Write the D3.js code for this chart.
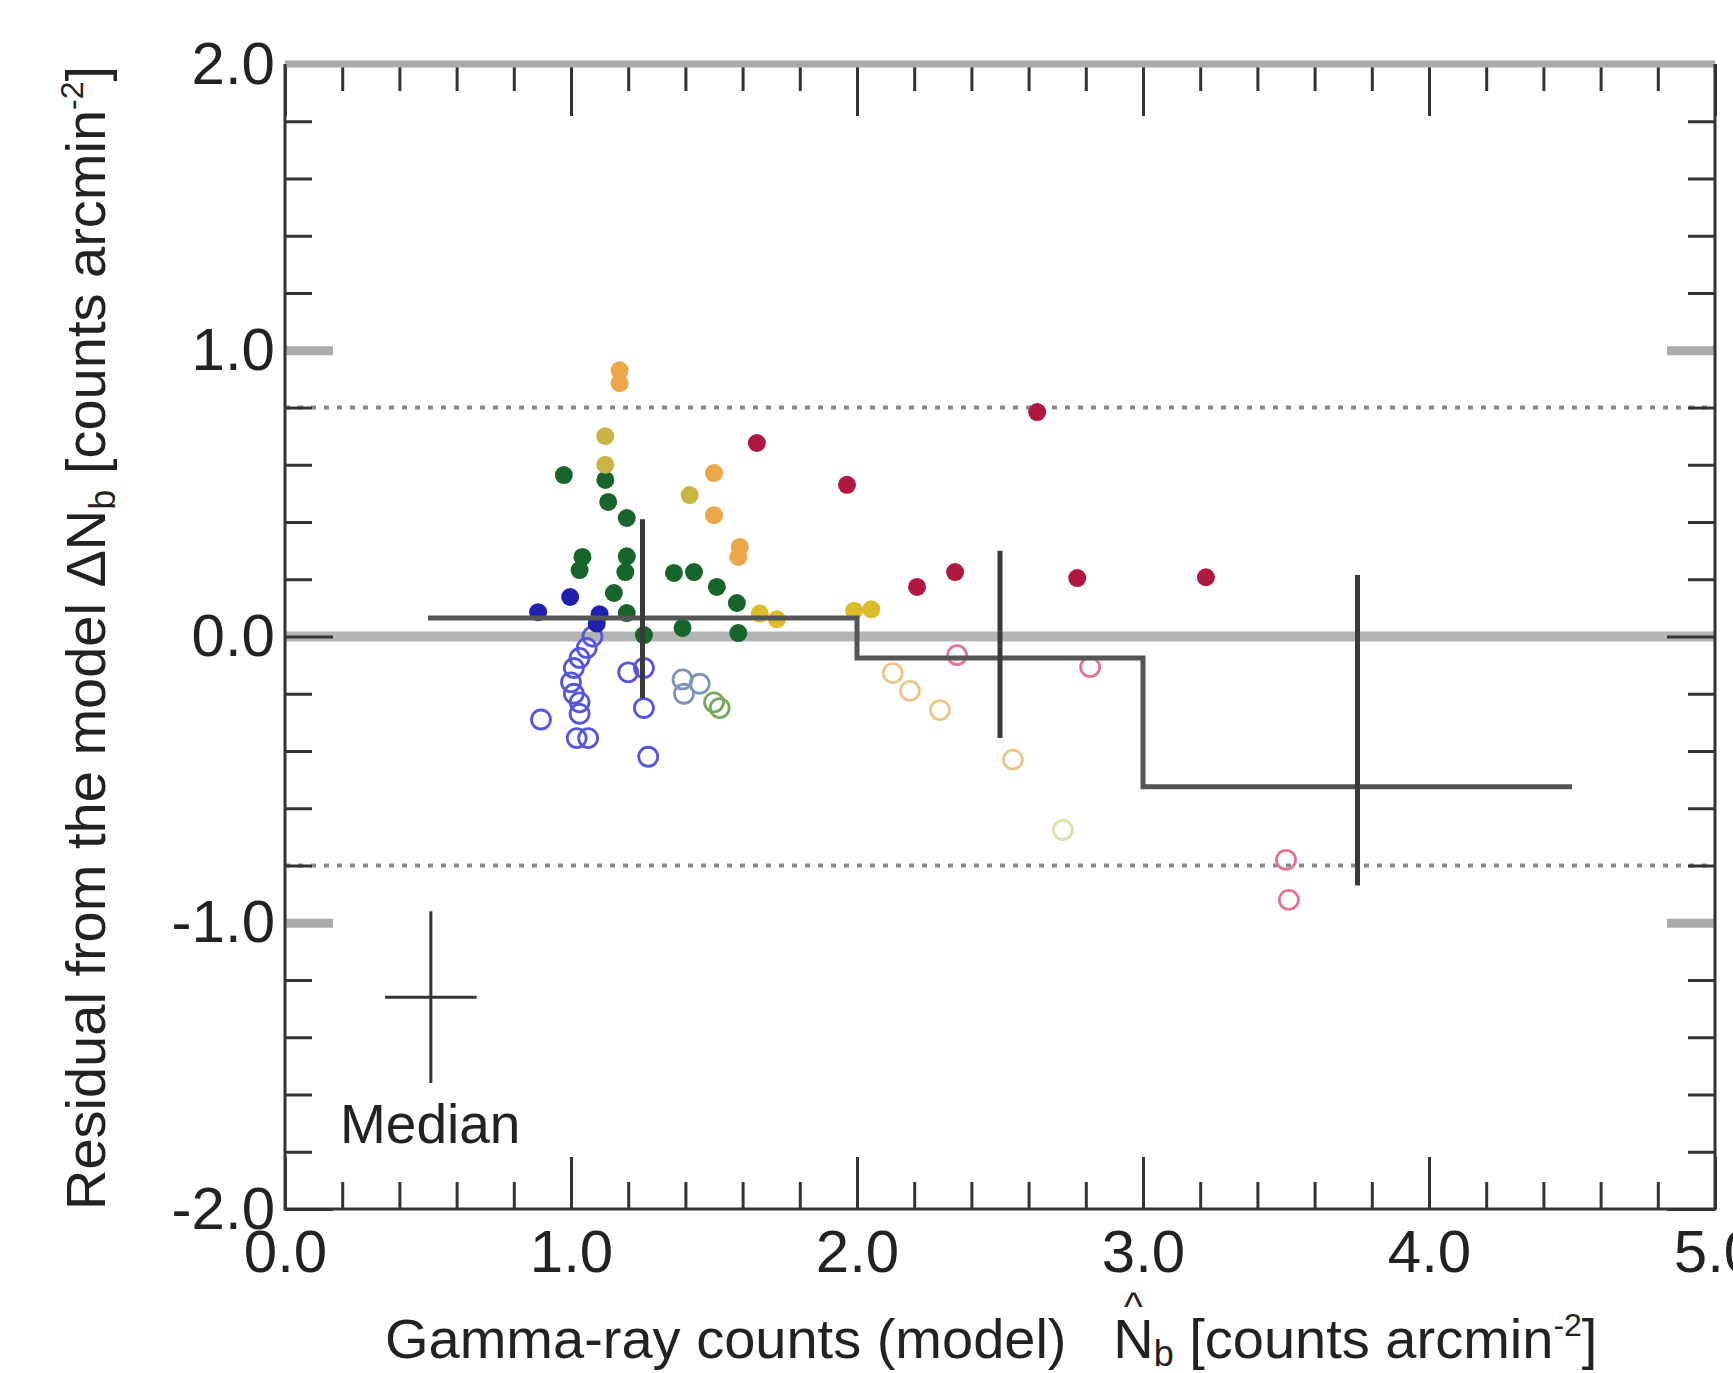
<!DOCTYPE html>
<html>
<head>
<meta charset="utf-8">
<script src="https://cdn.jsdelivr.net/npm/d3@7"></script>
<style>
  body { margin: 0; background: #fff; }
  svg { display: block; font-family: "Liberation Sans", Arial, sans-serif; }
</style>
</head>
<body>
<svg id="chart" width="1733" height="1373"></svg>
<script>
// residual points, [model counts, residual]
const blueFilled = [[0.885, 0.085], [0.997, 0.138], [1.10, 0.078], [1.09, 0.045]];
const blueOpen = [[1.075, 0.0], [1.055, -0.04], [1.03, -0.075], [1.01, -0.11], [1.0, -0.16], [1.01, -0.2],
  [1.03, -0.23], [1.03, -0.27], [1.02, -0.355], [1.06, -0.355], [0.895, -0.29], [1.2, -0.125],
  [1.255, -0.11], [1.255, -0.25], [1.27, -0.42]];
const grayBlueOpen = [[1.39, -0.15], [1.395, -0.2], [1.45, -0.165]];
const greenOpen = [[1.50, -0.23], [1.52, -0.25]];
const greenFilled = [[0.975, 0.564], [1.12, 0.547], [1.13, 0.47], [1.195, 0.414], [1.195, 0.28], [1.19, 0.225],
  [1.04, 0.278], [1.03, 0.232], [1.15, 0.152], [1.195, 0.082], [1.255, 0.005], [1.36, 0.222],
  [1.43, 0.225], [1.51, 0.173], [1.58, 0.117], [1.39, 0.03], [1.585, 0.012]];
const orangeFilled = [[1.17, 0.93], [1.17, 0.885], [1.50, 0.571], [1.50, 0.424], [1.59, 0.313], [1.585, 0.278]];
const oliveFilled = [[1.12, 0.70], [1.12, 0.60], [1.415, 0.494]];
const yellowFilled = [[1.66, 0.08], [1.72, 0.06], [1.99, 0.09], [2.05, 0.095]];
const redFilled = [[1.65, 0.676], [1.965, 0.53], [2.21, 0.173], [2.343, 0.225], [2.63, 0.784], [2.77, 0.204], [3.22, 0.207]];
const redOpen = [[2.35, -0.065], [2.815, -0.107], [3.50, -0.78], [3.51, -0.92]];
const orangeOpen = [[2.125, -0.128], [2.185, -0.19], [2.29, -0.257], [2.545, -0.43]];
const paleOpen = [[2.72, -0.676]];

// binned medians
const binEdges = [0.5, 2.0, 3.0, 4.5];
const binMedians = [0.065, -0.075, -0.525];
const binCenters = [1.25, 2.5, 3.75];
const binLow = [-0.215, -0.355, -0.87];
const binHigh = [0.41, 0.30, 0.215];

// typical error shown as "Median" cross
const medianCross = { x: 0.51, y: -1.26, dx: 0.16, dy: 0.30 };

const limitLines = [0.8, -0.8];
const xMajor = [0, 1, 2, 3, 4, 5];
const yMajor = [-2, -1, 0, 1, 2];

const svg = d3.select("#chart");
const x = d3.scaleLinear().domain([0, 5]).range([285, 1715]);
const y = d3.scaleLinear().domain([-2, 2]).range([1209, 64]);
const fmt = d => d.toFixed(1);

const minorX = d3.range(0, 5.001, 0.2).filter(v => Math.abs(v - Math.round(v)) > 1e-6);
const minorY = d3.range(-2, 2.001, 0.2).filter(v => Math.abs(v - Math.round(v)) > 1e-6);

// zero line + dotted limits
svg.append("line")
  .attr("x1", x(0)).attr("x2", x(5)).attr("y1", y(0)).attr("y2", y(0))
  .attr("stroke", "#b4b4b4").attr("stroke-width", 10);

svg.selectAll("line.limit")
  .data(limitLines)
  .join("line")
  .attr("class", "limit")
  .attr("x1", x(0)).attr("x2", x(5))
  .attr("y1", d => y(d)).attr("y2", d => y(d))
  .attr("stroke", "#8a8a8a").attr("stroke-width", 4)
  .attr("stroke-dasharray", "5,8");

// axes
function styleAxis(g) {
  g.select(".domain").remove();
  g.selectAll(".tick line").attr("stroke", "#333").attr("stroke-width", 3);
  g.selectAll(".tick text").attr("fill", "#222").attr("font-size", 60);
}

svg.append("g").attr("transform", `translate(0,${y(-2)})`)
  .call(d3.axisBottom(x).tickValues(minorX).tickSize(-27).tickFormat(""))
  .call(styleAxis);
svg.append("g").attr("transform", `translate(0,${y(-2)})`)
  .call(d3.axisBottom(x).tickValues(xMajor).tickSize(-52).tickPadding(20).tickFormat(fmt))
  .call(styleAxis);
svg.append("g").attr("transform", `translate(0,${y(2)})`)
  .call(d3.axisTop(x).tickValues(minorX).tickSize(-27).tickFormat(""))
  .call(styleAxis);
svg.append("g").attr("transform", `translate(0,${y(2)})`)
  .call(d3.axisTop(x).tickValues(xMajor).tickSize(-52).tickFormat(""))
  .call(styleAxis);

svg.append("g").attr("transform", `translate(${x(0)},0)`)
  .call(d3.axisLeft(y).tickValues(minorY).tickSize(-27).tickFormat(""))
  .call(styleAxis);
svg.append("g").attr("transform", `translate(${x(0)},0)`)
  .call(d3.axisLeft(y).tickValues(yMajor).tickSize(-48).tickPadding(10).tickFormat(fmt))
  .call(styleAxis)
  .selectAll(".tick line")
  .attr("stroke", d => Math.abs(d) === 1 ? "#ababab" : "#333")
  .attr("stroke-width", d => Math.abs(d) === 1 ? 9 : 3);
svg.append("g").attr("transform", `translate(${x(5)},0)`)
  .call(d3.axisRight(y).tickValues(minorY).tickSize(-27).tickFormat(""))
  .call(styleAxis);
svg.append("g").attr("transform", `translate(${x(5)},0)`)
  .call(d3.axisRight(y).tickValues(yMajor).tickSize(-48).tickFormat(""))
  .call(styleAxis)
  .selectAll(".tick line")
  .attr("stroke", d => Math.abs(d) === 1 ? "#ababab" : "#333")
  .attr("stroke-width", d => Math.abs(d) === 1 ? 9 : 3);

// frame
svg.append("line").attr("x1", x(0)).attr("x2", x(5)).attr("y1", y(2)).attr("y2", y(2))
  .attr("stroke", "#aaa").attr("stroke-width", 7);
svg.append("path")
  .attr("d", `M${x(0)},${y(2)}V${y(-2)}H${x(5)}V${y(2)}`)
  .attr("fill", "none").attr("stroke", "#333").attr("stroke-width", 3);

// points
function drawFilled(data, color) {
  svg.append("g").selectAll("circle")
    .data(data)
    .join("circle")
    .attr("cx", d => x(d[0])).attr("cy", d => y(d[1]))
    .attr("r", 9)
    .attr("fill", color);
}
function drawOpen(data, color) {
  svg.append("g").selectAll("circle")
    .data(data)
    .join("circle")
    .attr("cx", d => x(d[0])).attr("cy", d => y(d[1]))
    .attr("r", 9.5)
    .attr("fill", "none")
    .attr("stroke", color)
    .attr("stroke-width", 2.8);
}

drawOpen(blueOpen, "#5555dd");
drawOpen(grayBlueOpen, "#7b95b8");
drawOpen(greenOpen, "#74a85a");
drawOpen(orangeOpen, "#efc48a");
drawOpen(paleOpen, "#e4dcaa");
drawOpen(redOpen, "#e27490");
drawFilled(blueFilled, "#2020b0");
drawFilled(greenFilled, "#17652b");
drawFilled(orangeFilled, "#eda64a");
drawFilled(oliveFilled, "#c9b444");
drawFilled(yellowFilled, "#dcbc2a");
drawFilled(redFilled, "#b0183f");

// median step line
const stepPts = [];
binMedians.forEach((m, i) => {
  stepPts.push([binEdges[i], m], [binEdges[i + 1], m]);
});
svg.append("path")
  .attr("d", d3.line().x(d => x(d[0])).y(d => y(d[1]))(stepPts))
  .attr("fill", "none").attr("stroke", "#555").attr("stroke-width", 5);

svg.selectAll("line.err")
  .data(binCenters)
  .join("line")
  .attr("class", "err")
  .attr("x1", d => x(d)).attr("x2", d => x(d))
  .attr("y1", (d, i) => y(binHigh[i])).attr("y2", (d, i) => y(binLow[i]))
  .attr("stroke", "#3a3a3a").attr("stroke-width", 5);

// median cross
const mc = medianCross;
svg.append("line")
  .attr("x1", x(mc.x)).attr("x2", x(mc.x)).attr("y1", y(mc.y + mc.dy)).attr("y2", y(mc.y - mc.dy))
  .attr("stroke", "#333").attr("stroke-width", 3);
svg.append("line")
  .attr("x1", x(mc.x - mc.dx)).attr("x2", x(mc.x + mc.dx)).attr("y1", y(mc.y)).attr("y2", y(mc.y))
  .attr("stroke", "#333").attr("stroke-width", 3);
svg.append("text")
  .attr("x", 340).attr("y", 1143)
  .attr("font-size", 55).attr("fill", "#222")
  .text("Median");

// x title
const xt = svg.append("text")
  .attr("x", 385).attr("y", 1358)
  .attr("font-size", 56).attr("fill", "#222");
xt.append("tspan").text("Gamma-ray counts (model)\u00a0\u00a0 N");
xt.append("tspan").attr("font-size", 36).attr("dy", 8).text("b");
xt.append("tspan").attr("dy", -8).text(" [counts arcmin");
xt.append("tspan").attr("font-size", 32).attr("dy", -22).text("-2");
xt.append("tspan").attr("dy", 22).text("]");
const nIdx = "Gamma-ray counts (model)\u00a0\u00a0 ".length;
const nPos = xt.node().getStartPositionOfChar(nIdx);
const nEnd = xt.node().getEndPositionOfChar(nIdx);
svg.append("text")
  .attr("x", (nPos.x + nEnd.x) / 2).attr("y", 1320)
  .attr("text-anchor", "middle")
  .attr("font-size", 40).attr("fill", "#222")
  .text("^");

// y title
const yt = svg.append("text")
  .attr("transform", "rotate(-90)")
  .attr("x", -638).attr("y", 105)
  .attr("text-anchor", "middle")
  .attr("font-size", 56).attr("fill", "#222");
yt.append("tspan").text("Residual from the model \u0394N");
yt.append("tspan").attr("font-size", 36).attr("dy", 10).text("b");
yt.append("tspan").attr("dy", -10).text(" [counts arcmin");
yt.append("tspan").attr("font-size", 32).attr("dy", -22).text("-2");
yt.append("tspan").attr("dy", 22).text("]");
</script>
</body>
</html>
